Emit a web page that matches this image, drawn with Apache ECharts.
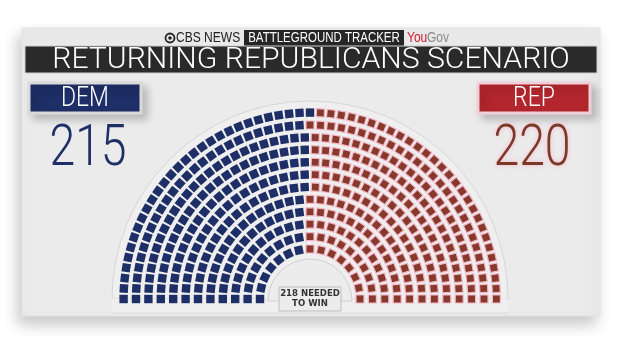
<!DOCTYPE html>
<html><head><meta charset="utf-8">
<script src="https://cdn.jsdelivr.net/npm/echarts@6/dist/echarts.min.js"></script>
<style>html,body{margin:0;padding:0;background:#fff}#c{width:620px;height:349px}</style>
</head><body><div id="c"></div>
<script>
// ---- data ----
const parties = ['DEM', 'REP'];
const seats = [215, 220];
const partyColors = ['#1e2e66', '#873a2b'];
const neededLines = ['218 NEEDED', 'TO WIN'];
const titleText = 'RETURNING REPUBLICANS SCENARIO';
const headerBrand = ['CBS NEWS', 'BATTLEGROUND TRACKER', 'You', 'Gov'];

// ---- hemicycle layout (computed) ----
const ROWS = 12, R0 = 50, DR = 12.4;
const total = seats.reduce((a, b) => a + b, 0);
const radii = Array.from({length: ROWS}, (_, i) => R0 + i * DR);
const sumR = radii.reduce((a, b) => a + b, 0);
const raw = radii.map(r => r * total / sumR);
const counts = raw.map(Math.floor);
let left = total - counts.reduce((a, b) => a + b, 0);
raw.map((v, i) => [v - Math.floor(v), i]).sort((a, b) => b[0] - a[0]).slice(0, left).forEach(([, i]) => counts[i]++);
const all = [];
radii.forEach((r, i) => {
  const n = counts[i];
  for (let j = 0; j < n; j++) all.push({r, a: j * 180 / (n - 1)});
});
all.sort((p, q) => p.a - q.a || q.r - p.r);
const partyData = parties.map(() => []);
let k = 0;
seats.forEach((s, pi) => {
  for (let m = 0; m < s; m++, k++) {
    const p = all[k];
    partyData[pi].push({value: [p.r, p.a], symbolRotate: 180 - p.a});
  }
});

const CX = 310, CY = 299;
const F = '"Liberation Sans", Arial, sans-serif';
function txt(x, y, text, size, fill, opts) {
  opts = opts || {};
  return {type: 'text', z: opts.z == null ? -4 : opts.z, x, y, scaleX: opts.sx || 1,
    style: Object.assign({x: 0, y: 0, text, font: (opts.weight || 'normal') + ' ' + size + 'px ' + (opts.family || F),
      fill, align: opts.align || 'center', verticalAlign: 'middle'}, opts.style || {})};
}
const chart = echarts.init(document.getElementById('c'), null, {renderer: 'canvas'});
chart.setOption({
  animation: false,
  backgroundColor: '#ffffff',
  polar: {center: [CX, CY], radius: 200},
  angleAxis: {type: 'value', min: 0, max: 360, startAngle: 180, clockwise: true, show: false,
    axisLine: {show: false}, axisTick: {show: false}, axisLabel: {show: false}, splitLine: {show: false}},
  radiusAxis: {type: 'value', min: 0, max: 200, show: false,
    axisLine: {show: false}, axisTick: {show: false}, axisLabel: {show: false}, splitLine: {show: false}},
  graphic: [
    // card
    {type: 'rect', z: -10, shape: {x: 22, y: 28, width: 578, height: 288},
      style: {fill: '#ebebeb', stroke: '#e2e2e2', lineWidth: 1, shadowBlur: 14, shadowOffsetX: -4, shadowOffsetY: 8, shadowColor: 'rgba(0,0,0,0.22)'}},
    // header
    {type: 'circle', z: -5, shape: {cx: 170, cy: 38, r: 4.5}, style: {fill: 'none', stroke: '#222', lineWidth: 1.8}},
    {type: 'circle', z: -5, shape: {cx: 170, cy: 38, r: 1.8}, style: {fill: '#222'}},
    txt(176, 38.5, headerBrand[0], 14, '#222', {align: 'left', sx: 0.86}),
    {type: 'rect', z: -5, shape: {x: 244, y: 30, width: 160, height: 16}, style: {fill: '#262626'}},
    txt(324, 38.5, headerBrand[1], 14, '#fff', {sx: 0.82}),
    txt(407, 38.5, headerBrand[2], 14, '#d0202a', {align: 'left', sx: 0.86}),
    txt(427, 38.5, headerBrand[3], 14, '#8a8a8a', {align: 'left', sx: 0.86}),
    // title bar
    {type: 'rect', z: -5, shape: {x: 25, y: 46, width: 572, height: 27}, style: {fill: '#2a2a2a', stroke: '#cfcfcf', lineWidth: 1}},
    txt(311, 60.5, titleText, 29, '#fff', {family: 'Roboto, ' + F, weight: '300', sx: 1.04}),
    // party boxes
    {type: 'rect', z: -5, shape: {x: 29, y: 83, width: 112, height: 30},
      style: {fill: partyColors[0], stroke: '#dadada', lineWidth: 3, shadowBlur: 8, shadowOffsetX: 5, shadowOffsetY: 5, shadowColor: 'rgba(0,0,0,0.2)'}},
    txt(85, 99, parties[0], 27, '#fff', {family: 'Roboto, ' + F, weight: '300', sx: 0.85}),
    {type: 'rect', z: -5, shape: {x: 478, y: 83, width: 112, height: 30},
      style: {fill: '#b3262d', stroke: '#f1cfd8', lineWidth: 3, shadowBlur: 8, shadowOffsetX: 5, shadowOffsetY: 5, shadowColor: 'rgba(0,0,0,0.2)'}},
    txt(534, 99, parties[1], 27, '#fff', {family: 'Roboto, ' + F, weight: '300', sx: 0.85}),
    // totals
    txt(88, 150, String(seats[0]), 58, partyColors[0], {sx: 0.8, weight: '300', family: 'Roboto, ' + F}),
    txt(532, 150, String(seats[1]), 58, '#7b3a28', {sx: 0.8, weight: '300', family: 'Roboto, ' + F,
      style: {textShadowColor: 'rgba(255,170,195,0.9)', textShadowBlur: 4}}),
    // hemicycle background
    {type: 'sector', z: -3, shape: {cx: CX, cy: CY, r: 198, r0: 0, startAngle: Math.PI, endAngle: 2 * Math.PI},
      style: {fill: '#efefef', stroke: '#d6d6d6', lineWidth: 1}},
    {type: 'rect', z: -3, shape: {x: 112, y: 299, width: 396, height: 14}, style: {fill: '#efefef'}},
    {type: 'line', z: -3, shape: {x1: 112, y1: 313, x2: 508, y2: 313}, style: {stroke: '#d8d8d8', lineWidth: 1}},
    {type: 'sector', z: -2, shape: {cx: CX, cy: CY + 2, r: 42, r0: 0, startAngle: Math.PI, endAngle: 2 * Math.PI},
      style: {fill: '#ececec', stroke: '#d0d0d0', lineWidth: 1}},
    {type: 'line', z: -2, shape: {x1: 309, y1: 113, x2: 309, y2: 254}, style: {stroke: '#f9f9f9', lineWidth: 2}},
    // needed box
    {type: 'rect', z: 20, shape: {x: 279, y: 287, width: 62, height: 24}, style: {fill: '#ececec', stroke: '#bdbdbd', lineWidth: 1}},
    txt(310, 294, neededLines[0], 9, '#333', {z: 21, weight: 'bold', family: '"DejaVu Sans", sans-serif', sx: 0.95}),
    txt(310, 304, neededLines[1], 9, '#333', {z: 21, weight: 'bold', family: '"DejaVu Sans", sans-serif', sx: 0.95})
  ],
  series: parties.map((p, i) => ({
    name: p, type: 'scatter', coordinateSystem: 'polar', symbol: 'rect', symbolSize: i === 0 ? 8.4 : 8,
    itemStyle: i === 0 ? {color: partyColors[0], opacity: 1}
                       : {color: partyColors[1], opacity: 1, borderColor: '#f2b8c7', borderWidth: 1.2},
    data: partyData[i], silent: true
  }))
});
</script></body></html>
